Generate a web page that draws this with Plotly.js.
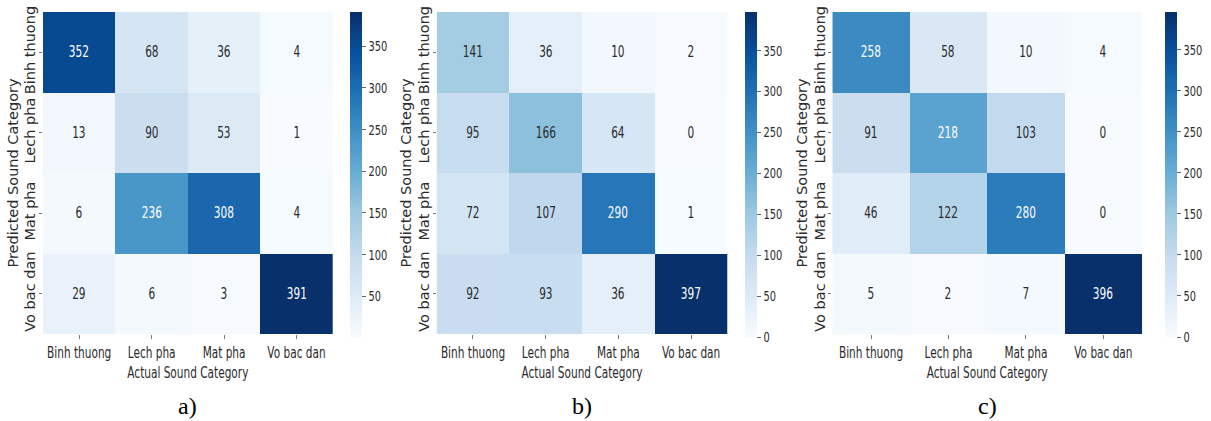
<!DOCTYPE html>
<html>
<head>
<meta charset="utf-8">
<script src="https://cdn.plot.ly/plotly-3.0.1.min.js"></script>
<style>
  html, body { margin: 0; padding: 0; background: #ffffff; }
  #chart { width: 1211px; height: 421px; }
</style>
</head>
<body>
<div id="chart"></div>
<script>
// Sound categories (rows: predicted, columns: actual)
const categories = ['Binh thuong', 'Lech pha', 'Mat pha', 'Vo bac dan'];

// Confusion matrices for the three models
const matrixA = [
  [352, 68, 36, 4],
  [13, 90, 53, 1],
  [6, 236, 308, 4],
  [29, 6, 3, 391]
];
const matrixB = [
  [141, 36, 10, 2],
  [95, 166, 64, 0],
  [72, 107, 290, 1],
  [92, 93, 36, 397]
];
const matrixC = [
  [258, 58, 10, 4],
  [91, 218, 103, 0],
  [46, 122, 280, 0],
  [5, 2, 7, 396]
];
const panelLabels = ['a)', 'b)', 'c)'];
const xTitle = 'Actual Sound Category';
const yTitle = 'Predicted Sound Category';

// Layout geometry in pixels
const W = 1211, H = 421;
const panels = [
  { x0: 43, x1: 333, cb: 350 },
  { x0: 437, x1: 728, cb: 745 },
  { x0: 833, x1: 1143, cb: 1165 }
];
const plotTop = 12, plotBottom = 334, cbBottom = 337;

// matplotlib "Blues"
const blues = [
  [0.000, '#f7fbff'], [0.125, '#deebf7'], [0.250, '#c6dbef'],
  [0.375, '#9ecae1'], [0.500, '#6baed6'], [0.625, '#4292c6'],
  [0.750, '#2171b5'], [0.875, '#08519c'], [1.000, '#08306b']
];

const sans = '"DejaVu Sans", sans-serif';
const textColor = '#2b2b2b';
// horizontal compression applied to upright labels (tall, narrow lettering)
const squeezeFactor = 0.68;

const matrices = [matrixA, matrixB, matrixC];
const data = [];
const annotations = [];
const layout = {
  width: W, height: H,
  margin: { l: 0, r: 0, t: 0, b: 0 },
  paper_bgcolor: '#ffffff',
  plot_bgcolor: '#ffffff',
  showlegend: false,
  annotations: annotations
};

matrices.forEach((z, i) => {
  const p = panels[i];
  const flat = z.flat();
  const zmin = Math.min(...flat), zmax = Math.max(...flat);
  const tickvals = [];
  for (let t = 0; t <= zmax; t += 50) if (t >= zmin) tickvals.push(t);

  const sfx = i === 0 ? '' : String(i + 1);
  data.push({
    type: 'heatmap',
    z: z,
    x: categories,
    y: categories,
    xaxis: 'x' + sfx,
    yaxis: 'y' + sfx,
    zmin: zmin,
    zmax: zmax,
    colorscale: blues,
    hoverinfo: 'x+y+z',
    colorbar: {
      x: p.cb / W, xanchor: 'left', xpad: 0,
      y: 1 - plotTop / H, yanchor: 'top', ypad: 0,
      len: (cbBottom - plotTop) / H, lenmode: 'fraction',
      thickness: 12, outlinewidth: 0,
      tickvals: tickvals,
      ticks: 'outside', ticklen: 4, tickcolor: '#666',
      tickfont: { family: sans, size: 14.5, color: textColor }
    }
  });

  layout['xaxis' + sfx] = {
    domain: [p.x0 / W, p.x1 / W],
    anchor: 'y' + sfx,
    type: 'category',
    showgrid: false, zeroline: false, showline: false,
    ticks: 'outside', ticklen: 4, tickcolor: '#777',
    tickangle: 0,
    tickfont: { family: sans, size: 15.5, color: textColor },
    title: { text: xTitle, font: { family: sans, size: 15.5, color: textColor }, standoff: 6 }
  };
  layout['yaxis' + sfx] = {
    domain: [1 - plotBottom / H, 1 - plotTop / H],
    anchor: 'x' + sfx,
    type: 'category',
    autorange: 'reversed',
    showgrid: false, zeroline: false, showline: false,
    ticks: 'outside', ticklen: 3, tickcolor: '#777',
    ticklabelstandoff: -2,
    tickangle: -90,
    tickfont: { family: sans, size: 14.5, color: textColor },
    title: { text: yTitle, font: { family: sans, size: 14.5, color: textColor }, standoff: 0 }
  };

  // Cell counts, light text on dark cells
  z.forEach((row, r) => {
    row.forEach((v, c) => {
      const frac = (v - zmin) / (zmax - zmin);
      annotations.push({
        x: categories[c], y: categories[r],
        xref: 'x' + sfx, yref: 'y' + sfx,
        text: String(v), showarrow: false,
        font: { family: sans, size: 15.5, color: frac > 0.5 ? '#ffffff' : textColor }
      });
    });
  });

  // Panel caption
  annotations.push({
    x: (p.x0 + p.x1) / 2 / W, y: 1 - 406 / H,
    xref: 'paper', yref: 'paper',
    xanchor: 'center', yanchor: 'middle',
    text: panelLabels[i], showarrow: false,
    font: { family: '"Liberation Serif", "Times New Roman", serif', size: 24, color: '#000000' }
  });
});

// Compress upright text horizontally while keeping its anchor point
function squeezeText(nodes, f) {
  nodes.forEach(t => {
    if (panelLabels.includes(t.textContent)) return;
    const len = t.getComputedTextLength();
    if (len > 0) {
      t.setAttribute('textLength', (len * f).toFixed(2));
      t.setAttribute('lengthAdjust', 'spacingAndGlyphs');
    }
  });
}

Plotly.newPlot('chart', data, layout, { displayModeBar: false, staticPlot: true }).then(gd => {
  const sel = [
    '.xtick text', '.x2tick text', '.x3tick text',
    '.xtitle', '.x2title', '.x3title',
    '.annotation-text',
    '.colorbar text'
  ].join(',');
  squeezeText(Array.from(gd.querySelectorAll(sel)), squeezeFactor);
});
</script>
</body>
</html>
